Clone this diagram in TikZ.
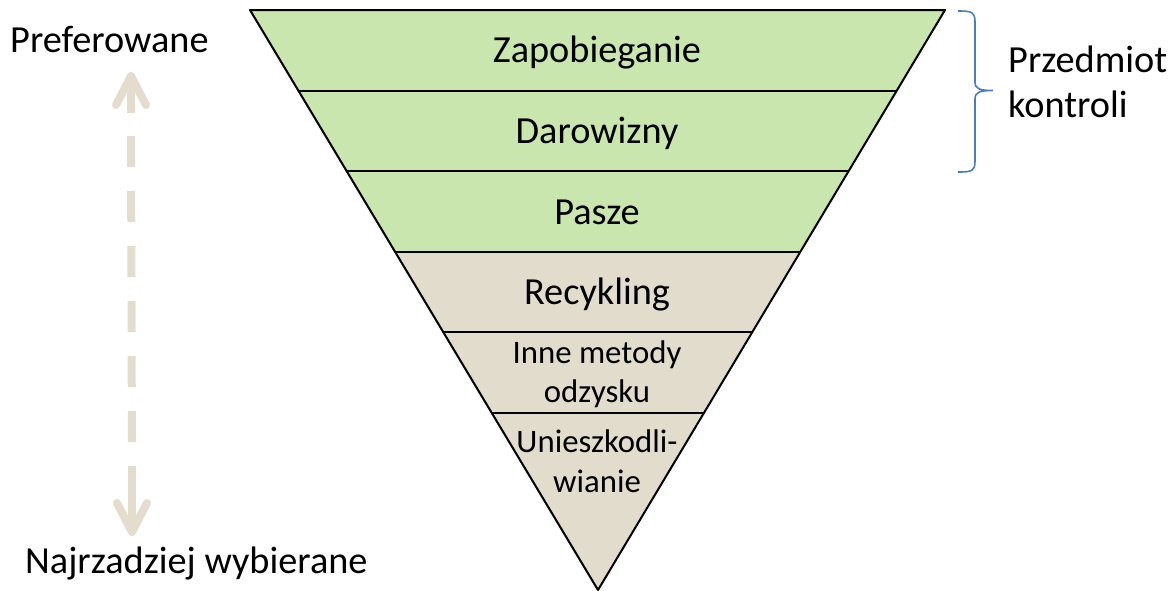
\documentclass[tikz,border=0pt]{standalone}
\usepackage{fontspec}
\setmainfont{Carlito}
\usetikzlibrary{calc}
\definecolor{lgreen}{HTML}{C9E6AE}
\definecolor{ltan}{HTML}{E2DCCC}
\definecolor{arrowtan}{HTML}{E4DDCE}
\definecolor{braceblue}{HTML}{4A7CC4}
\tikzset{
  bigtxt/.style={font=\fontsize{38.3}{40}\selectfont, inner sep=0pt, anchor=base},
  smalltxt/.style={font=\fontsize{32.8}{34}\selectfont, inner sep=0pt, anchor=base},
  layerline/.style={draw=black, line width=2pt, line join=round},
  arrowline/.style={draw=arrowtan, line width=8pt},
}
\begin{document}
\begin{tikzpicture}[x=1pt,y=-1pt]
\useasboundingbox (0,0) rectangle (1175,590);
% triangle corners
\coordinate (TL) at (250,10);
\coordinate (TR) at (945,10);
\coordinate (AP) at (598,590);
\foreach \i/\t in {0/0,1/0.13879,2/0.27759,3/0.41638,4/0.55517,5/0.69397}{
  \coordinate (L\i) at ($(TL)!\t!(AP)$);
  \coordinate (R\i) at ($(TR)!\t!(AP)$);
}
% fills
\fill[lgreen] (L0) -- (R0) -- (R3) -- (L3) -- cycle;
\fill[ltan] (L3) -- (R3) -- (AP) -- cycle;
% divider lines
\foreach \i in {1,...,5}{ \draw[layerline] (L\i) -- (R\i); }
\draw[layerline] (L0) -- (R0) -- (AP) -- cycle;
% labels
\node[bigtxt] (zap) at (597,62) {Zapobieganie};
\node[bigtxt] (dar) at (597,143) {Darowizny};
\node[bigtxt] (pas) at (597,224) {Pasze};
\node[bigtxt] (rec) at (597,304) {Recykling};
\node[smalltxt] (inne1) at (597,363) {Inne metody};
\node[smalltxt] (inne2) at (597,402) {odzysku};
\node[smalltxt] (uni1) at (597,452) {Unieszkodli-};
\node[smalltxt] (uni2) at (597,492) {wianie};
% side texts
\node[bigtxt, anchor=base west] (pref) at (10,52) {Preferowane};
\node[bigtxt, anchor=base west] (najr) at (25,573) {Najrzadziej wybierane};
\node[bigtxt, anchor=base west] (prz1) at (1008,72) {Przedmiot};
\node[bigtxt, anchor=base west] (prz2) at (1008,117) {kontroli};
% brace
\coordinate (bt) at (958,11);
\coordinate (bb) at (958,172);
\coordinate (btip) at (993,90.5);
\draw[braceblue, line width=1.6pt, line join=round] (bt) .. controls (972,11) and (975,12) .. (975,22) -- (975,82)
  .. controls (975,89) and (980,90.5) .. (btip)
  (975,99) .. controls (975,92) and (980,90.5) .. (btip)
  (975,99) -- (975,161) .. controls (975,171) and (972,172) .. (bb);
% dashed double arrow
\coordinate (atop) at (131,76);
\coordinate (abot) at (132,532);
\draw[arrowline, line cap=round, line join=round] (116,105) -- (atop) -- (146,105);
\draw[arrowline] (atop) -- (131,113);
\draw[arrowline, line cap=round, line join=round] (117,503) -- (abot) -- (147,503);
\draw[arrowline] (abot) -- (132,467);
\draw[arrowline, dash pattern=on 31pt off 24pt] (131,136) -- (132,467);
\end{tikzpicture}
\end{document}
